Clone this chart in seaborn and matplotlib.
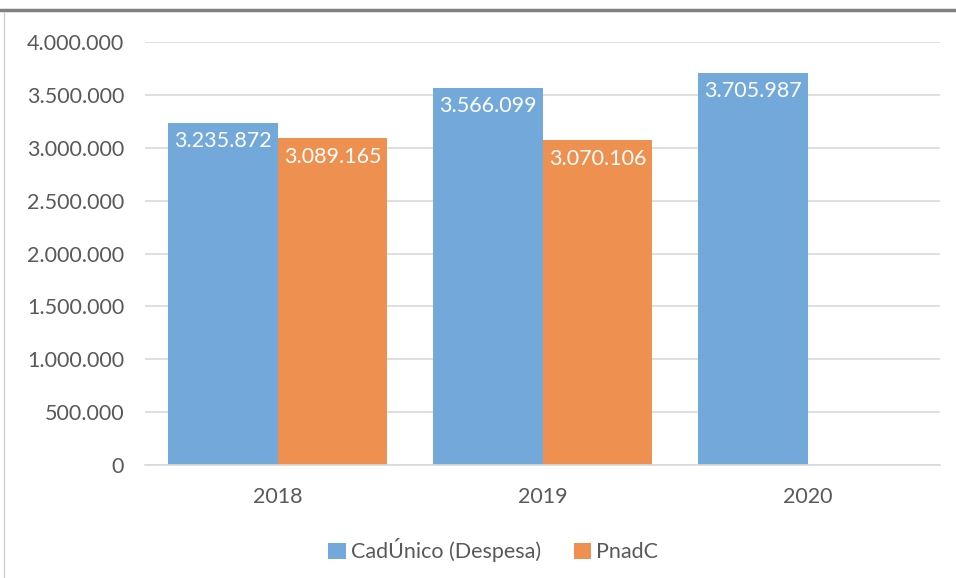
import numpy as np
import pandas as pd
import matplotlib.pyplot as plt
import seaborn as sns
from matplotlib.lines import Line2D

# values
years = ["2018", "2019", "2020"]
cadunico = [3235872, 3566099, 3705987]
pnadc = [3089165, 3070106, np.nan]
series_names = ["CadÚnico (Despesa)", "PnadC"]
colors = ["#72A9DA", "#EE904F"]
yticks = np.arange(0, 4000001, 500000)

df = pd.DataFrame({
    "ano": years * 2,
    "valor": cadunico + pnadc,
    "serie": [series_names[0]] * 3 + [series_names[1]] * 3,
})

sns.set_style("white")
plt.rcParams["font.family"] = ["Lato", "DejaVu Sans"]

fig = plt.figure(figsize=(9.56, 5.78), dpi=100)
ax = fig.add_axes([145 / 956, 1 - 465 / 578, 795 / 956, 423 / 578])

sns.barplot(data=df, x="ano", y="valor", hue="serie", palette=colors,
            width=0.83, saturation=1, linewidth=0, ax=ax, legend=True)

def fmt(v):
    return f"{v:,.0f}".replace(",", ".")

# data labels inside the bar tops
for cont in ax.containers:
    for p in cont:
        h = p.get_height()
        if np.isnan(h) or h == 0:
            continue
        ax.annotate(fmt(h), (p.get_x() + p.get_width() / 2, h),
                    xytext=(0, -6), textcoords="offset points",
                    ha="center", va="top", color="white", fontsize=15.5)

ax.set_ylim(0, 4000000)
ax.set_yticks(yticks)
ax.set_yticklabels([fmt(v) for v in yticks])
ax.set_xlabel("")
ax.set_ylabel("")
ax.tick_params(axis="y", length=0, pad=15, labelsize=15.5, labelcolor="#595959")
ax.tick_params(axis="x", length=0, pad=16, labelsize=15.5, labelcolor="#595959")
ax.yaxis.grid(True, color="#d9d9d9", linewidth=1.2)
ax.set_axisbelow(True)
sns.despine(ax=ax, left=True, top=True, right=True)
ax.spines["bottom"].set_color("#d9d9d9")
ax.spines["bottom"].set_linewidth(1.2)

handles, labels = ax.get_legend_handles_labels()
ax.legend_.remove()
fig.legend(handles, labels, loc="center", bbox_to_anchor=(0.516, 0.048),
           ncol=2, frameon=False, fontsize=15.5, labelcolor="#595959",
           handlelength=0.8, handleheight=0.8, handletextpad=0.25, columnspacing=1.5)

# outer frame of the pasted chart
fig.add_artist(Line2D([0, 1], [1 - 10 / 578, 1 - 10 / 578], color="#808080", linewidth=2.5))
fig.add_artist(Line2D([4 / 956, 4 / 956], [0, 1 - 12 / 578], color="#d0d0d0", linewidth=1))

plt.savefig("out.png", dpi=100)
